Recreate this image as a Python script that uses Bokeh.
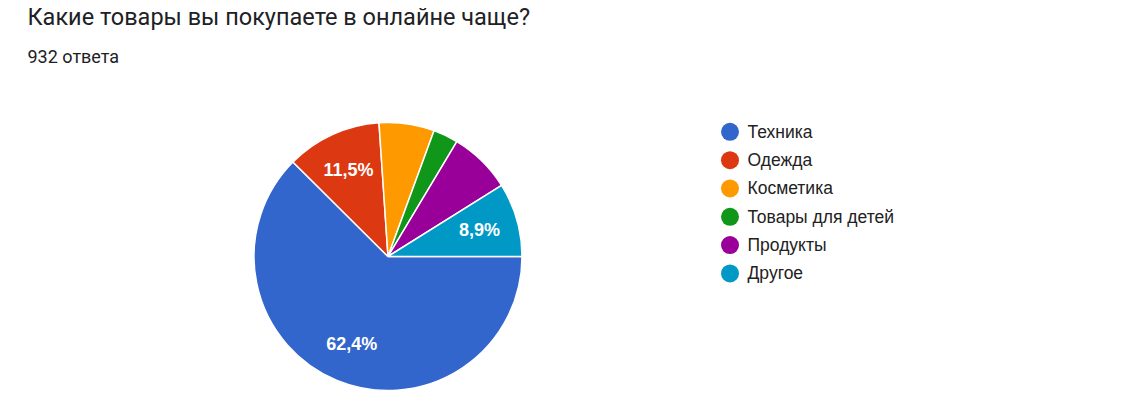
import math
from bokeh.plotting import figure
from bokeh.models import Range1d, ColumnDataSource
from bokeh.core.properties import value
from bokeh.embed import file_html
from bokeh.resources import INLINE

title_text = "Какие товары вы покупаете в онлайне чаще?"
subtitle_text = "932 ответа"
categories = ["Техника", "Одежда", "Косметика", "Товары для детей", "Продукты", "Другое"]
counts = [582, 107, 62, 28, 70, 83]
colors = ["#3366cc", "#dc3912", "#ff9900", "#109618", "#990099", "#0099c6"]
label_min_share = 0.08

W, H = 1130, 395
# data coordinates: x = page x, y = 395 - page y
p = figure(width=W, height=H, output_backend="svg", toolbar_location=None,
           x_range=Range1d(0, W), y_range=Range1d(0, H),
           min_border=0)
p.axis.visible = False
p.grid.visible = False
p.outline_line_color = None
p.background_fill_color = "white"
p.border_fill_color = "white"

def Y(py):
    return H - py

cx, cy, r = 387.5, Y(256), 134
total = sum(counts)
starts, ends, mids, shares = [], [], [], []
cum = 0
for c in counts:
    a0 = -2 * math.pi * cum / total
    cum += c
    a1 = -2 * math.pi * cum / total
    starts.append(a1)
    ends.append(a0)
    mids.append((a0 + a1) / 2)
    shares.append(c / total)

src = ColumnDataSource(dict(start=starts, end=ends, color=colors, cat=categories))
p.wedge(x=cx, y=cy, radius=r, start_angle="start", end_angle="end",
        fill_color="color", line_color="white", line_width=1.5, source=src)

lx, ly, lt = [], [], []
for m, s in zip(mids, shares):
    if s >= label_min_share:
        lx.append(cx + 0.71 * r * math.cos(m))
        ly.append(cy + 0.71 * r * math.sin(m))
        lt.append(f"{s*100:.1f}%".replace(".", ","))
p.text(x=lx, y=ly, text=lt, text_color="white", text_font=value("Liberation Sans"),
       text_font_size="18px", text_font_style="bold", text_align="center",
       text_baseline="middle")

# title and subtitle
p.text(x=[27], y=[Y(16.5)], text=[title_text], text_font=value("Roboto"),
       text_font_size="23.5px", text_color="#202124", text_baseline="alphabetic")
p.text(x=[27], y=[Y(56)], text=[subtitle_text], text_font=value("Roboto"),
       text_font_size="18px", text_color="#202124", text_baseline="alphabetic")

# legend
leg_y = [Y(131.3 + 28.33 * i) for i in range(len(categories))]
p.scatter(x=[729.5] * len(categories), y=leg_y, size=18, marker="circle",
          fill_color=colors, line_color=None)
p.text(x=[747] * len(categories), y=leg_y, text=categories,
       text_font=value("Liberation Sans"), text_font_size="17.5px",
       text_color="#222222", text_baseline="middle")

open("out.html", "w").write(file_html(p, INLINE))
